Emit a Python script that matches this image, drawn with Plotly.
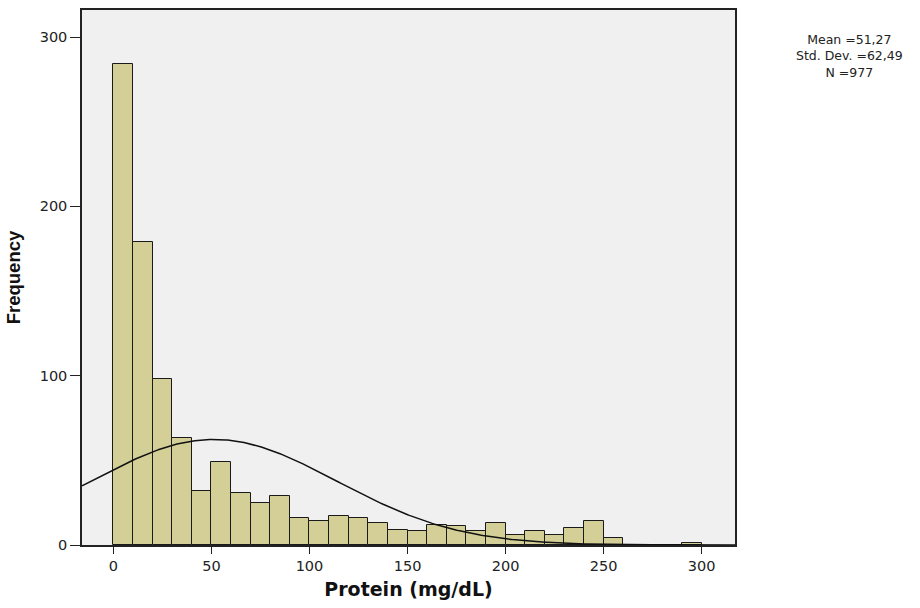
import numpy as np
import plotly.graph_objects as go

# Histogram bins (left edges, width 10 mg/dL) and counts
bin_starts = [0, 10, 20, 30, 40, 50, 60, 70, 80, 90, 100, 110, 120, 130, 140,
              150, 160, 170, 180, 190, 200, 210, 220, 230, 240, 250, 260, 270, 280, 290]
counts = [284, 179, 98, 63, 32, 49, 31, 25, 29, 16, 14, 17, 16, 13, 9,
          8, 12, 11, 8, 13, 6, 8, 6, 10, 14, 4, 0, 0, 0, 1]
bin_width = 10

# Summary statistics shown on the chart
mean_val = 51.27
std_val = 62.49
n_val = 977
stats_lines = ["Mean =51,27", "Std. Dev. =62,49", "N =977"]

x_ticks = [0, 50, 100, 150, 200, 250, 300]
y_ticks = [0, 100, 200, 300]

x_range = [-16, 317]
y_range = [0, 316]

centers = [b + bin_width / 2 for b in bin_starts]

fig = go.Figure()
fig.add_trace(go.Bar(
    x=centers, y=counts, width=bin_width,
    marker=dict(color="#d3cf97", line=dict(color="#1a1a1a", width=1)),
    hoverinfo="x+y", showlegend=False,
))

xc = np.linspace(x_range[0], x_range[1], 400)
yc = n_val * bin_width / (std_val * np.sqrt(2 * np.pi)) * np.exp(-0.5 * ((xc - mean_val) / std_val) ** 2)
fig.add_trace(go.Scatter(
    x=xc, y=yc, mode="lines", line=dict(color="#111111", width=1.5),
    showlegend=False, hoverinfo="skip",
))

tick_font = "DejaVu Sans, Verdana, sans-serif"

fig.update_layout(
    width=920, height=608,
    margin=dict(l=82, r=185, t=8, b=63),
    paper_bgcolor="white",
    plot_bgcolor="#f0f0f0",
    bargap=0,
    font=dict(family=tick_font, size=14, color="#222"),
    xaxis=dict(
        range=x_range, tickvals=x_ticks, ticks="outside", ticklen=7, tickcolor="#222",
        showgrid=False, zeroline=False, showline=True, linecolor="#222", linewidth=1.5,
        mirror=True, tickfont=dict(size=14.5, color="#222", family=tick_font),
        title=dict(text="<b>Protein (mg/dL)</b>",
                   font=dict(size=19, color="#111", family="DejaVu Sans, sans-serif"), standoff=10),
    ),
    yaxis=dict(
        range=y_range, tickvals=y_ticks, ticks="outside", ticklen=10, tickcolor="#222",
        showgrid=False, zeroline=False, showline=True, linecolor="#222", linewidth=1.5,
        mirror=True, tickfont=dict(size=14.5, color="#222", family=tick_font),
        title=dict(text="<b>Frequency</b>",
                   font=dict(size=18.5, color="#111", family="Liberation Sans, Arial, sans-serif"),
                   standoff=14),
    ),
    annotations=[dict(
        xref="paper", yref="paper", x=1.176, y=0.9134, xanchor="center", yanchor="middle",
        text="<br>".join(stats_lines), showarrow=False, align="center",
        font=dict(size=12.5, color="#222", family=tick_font),
    )],
)

fig.write_html("out.html", config={"displayModeBar": False},
               post_script="document.body.style.margin='0';")
